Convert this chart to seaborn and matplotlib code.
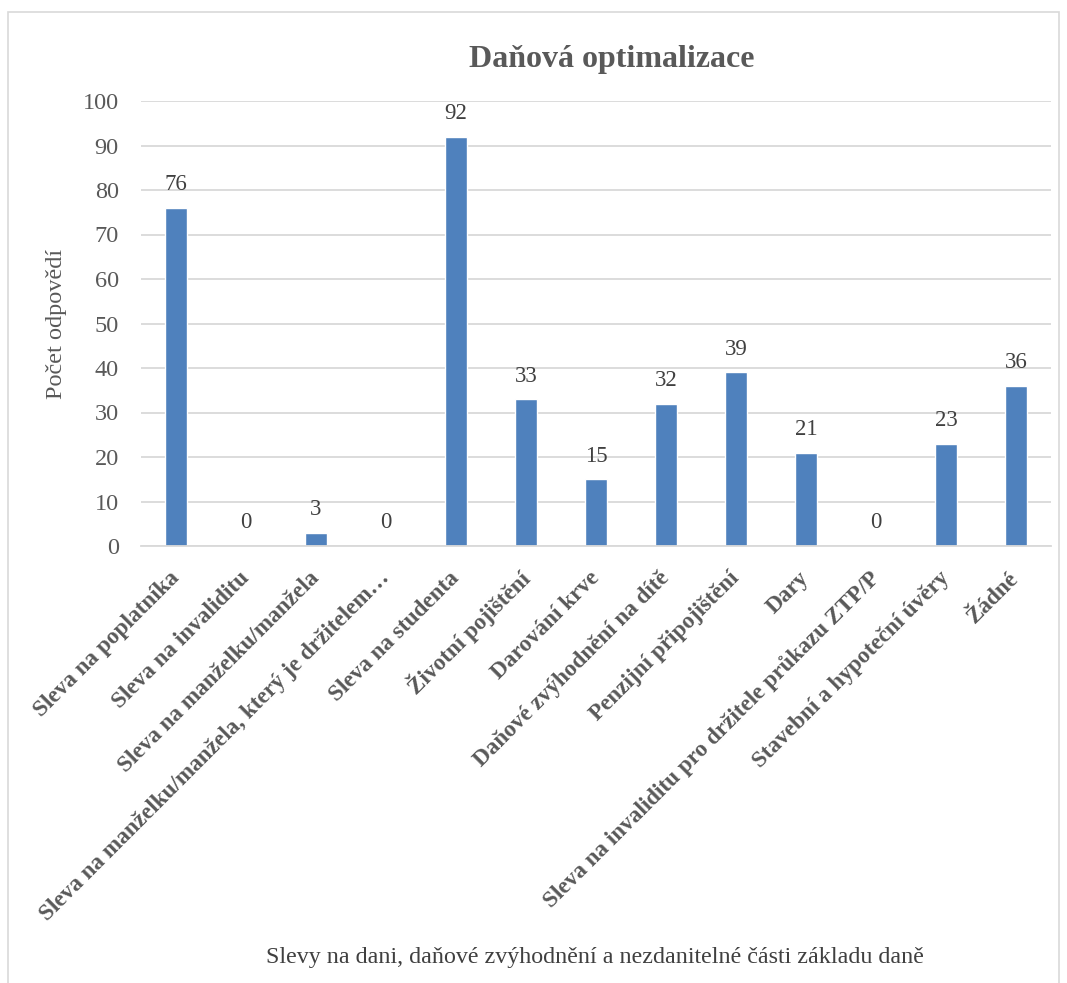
import matplotlib
matplotlib.use("Agg")
import matplotlib.pyplot as plt
import seaborn as sns
import pandas as pd
from matplotlib.patches import Rectangle

categories = [
    "Sleva na poplatníka",
    "Sleva na invaliditu",
    "Sleva na manželku/manžela",
    "Sleva na manželku/manžela, který je držitelem…",
    "Sleva na studenta",
    "Životní pojištění",
    "Darování krve",
    "Daňové zvýhodnění na dítě",
    "Penzijní připojištění",
    "Dary",
    "Sleva na invaliditu pro držitele průkazu ZTP/P",
    "Stavební a hypoteční úvěry",
    "Žádné",
]
values = [76, 0, 3, 0, 92, 33, 15, 32, 39, 21, 0, 23, 36]
y_ticks = [0, 10, 20, 30, 40, 50, 60, 70, 80, 90, 100]

title = "Daňová optimalizace"
x_label = "Slevy na dani, daňové zvýhodnění a nezdanitelné části základu daně"
y_label = "Počet odpovědí"

sns.set_theme(style="white")
plt.rcParams["font.family"] = ["Liberation Serif", "DejaVu Serif"]

TXT = "#595959"
DARK = "#404040"
BAR = "#4F81BD"
GRID = "#D9D9D9"

df = pd.DataFrame({"cat": categories, "val": values})

fig = plt.figure(figsize=(10.67, 9.83), dpi=100)
fig.patch.set_facecolor("white")
# outer chart frame
fig.patches.append(Rectangle((8 / 1067, -0.05), (1059 - 8) / 1067, (983 - 12) / 983 + 0.05,
                             transform=fig.transFigure, fill=False,
                             edgecolor="#D9D9D9", linewidth=1.2))

ax = fig.add_axes([141 / 1067, 437 / 983, (1051 - 141) / 1067, (546 - 101) / 983])
sns.barplot(data=df, x="cat", y="val", color=BAR, width=0.31, saturation=1, ax=ax)

ax.set_ylim(0, 100)
ax.set_yticks(y_ticks)
ax.set_yticklabels([str(v) for v in y_ticks], fontsize=17.5, color=TXT)
ax.yaxis.grid(True, color=GRID, linewidth=1.3)
ax.set_axisbelow(True)
for s in ["top", "right", "left"]:
    ax.spines[s].set_visible(False)
ax.spines["bottom"].set_color(GRID)
ax.spines["bottom"].set_linewidth(1.3)
ax.tick_params(axis="y", length=0, pad=16)
ax.tick_params(axis="x", length=0, pad=21)

ax.set_xticks(range(len(categories)))
ax.set_xticklabels(categories, rotation=45, ha="right", va="center",
                   rotation_mode="anchor", fontsize=16.7, fontweight="bold", color=TXT)

for c in ax.containers:
    ax.bar_label(c, labels=[str(v) for v in values], padding=9, fontsize=16.5, color=DARK)

ax.set_xlabel("")
ax.set_ylabel(y_label, fontsize=17.5, color=TXT, labelpad=11)

fig.text(612 / 1067, 1 - 59 / 983, title, ha="center", va="center",
         fontsize=23, fontweight="bold", color=TXT)
fig.text(595 / 1067, 1 - 958 / 983, x_label, ha="center", va="center",
         fontsize=17.3, color=DARK)

fig.savefig("out.png", dpi=100)
